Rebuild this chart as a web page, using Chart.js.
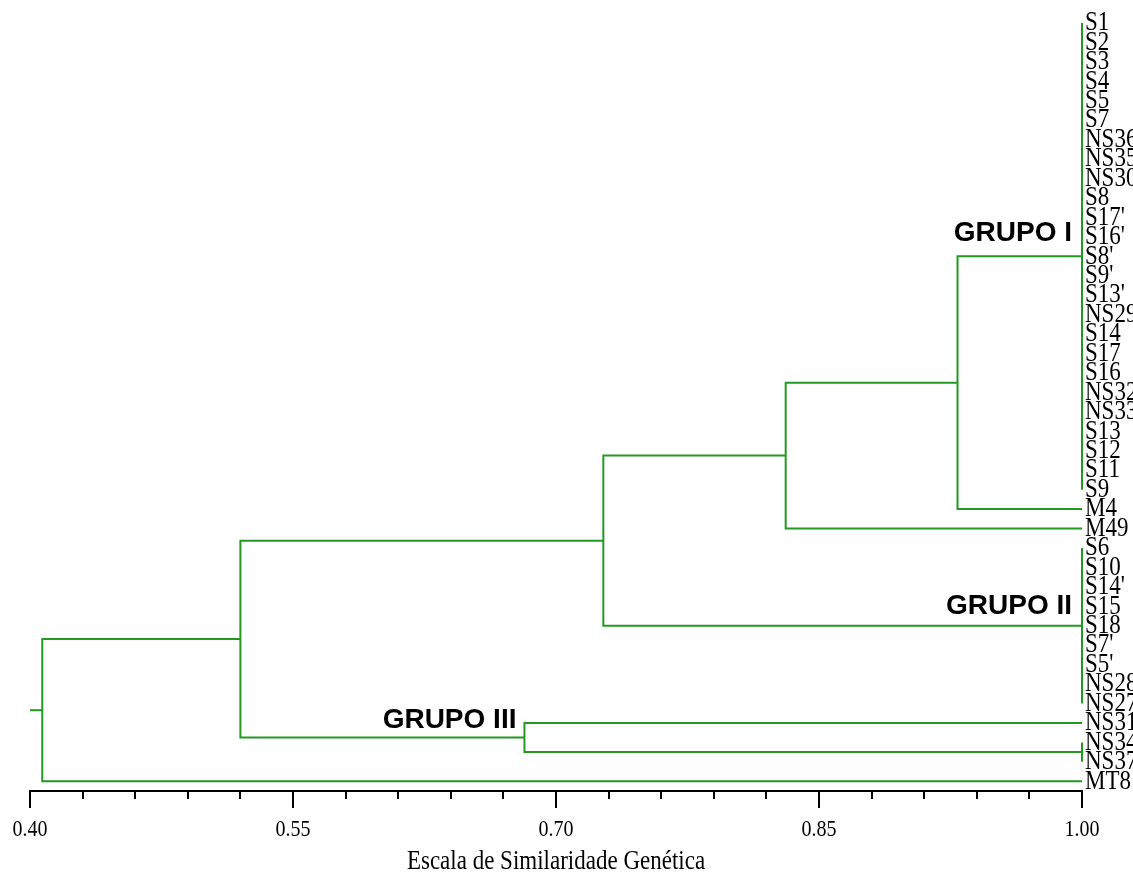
<!DOCTYPE html>
<html>
<head>
<meta charset="utf-8">
<script src="https://cdn.jsdelivr.net/npm/chart.js@4/dist/chart.umd.min.js"></script>
<style>
  html, body { margin: 0; padding: 0; background: #ffffff; }
  #wrap { width: 1133px; height: 873px; position: relative; }
</style>
</head>
<body>
<div id="wrap"><canvas id="dendro"></canvas></div>
<script>
// Accessions, top to bottom
const leafLabels = [
  'S1', 'S2', 'S3', 'S4', 'S5', 'S7', 'NS36', 'NS35', 'NS30', 'S8',
  "S17'", "S16'", "S8'", "S9'", "S13'", 'NS29', 'S14', 'S17', 'S16', 'NS32',
  'NS33', 'S13', 'S12', 'S11', 'S9', 'M4', 'M49', 'S6', 'S10', "S14'",
  'S15', 'S18', "S7'", "S5'", 'NS28', 'NS27', 'NS31', 'NS34', 'NS37', 'MT8'
];

// Clusters: children are leaf indices (numbers) or earlier clusters ('n' + index)
const nodeChildren = [
  [0, 1, 2, 3, 4, 5, 6, 7, 8, 9, 10, 11, 12, 13, 14, 15, 16, 17, 18, 19, 20, 21, 22, 23, 24],
  [27, 28, 29, 30, 31, 32, 33, 34, 35],
  [37, 38],
  ['n0', 25],
  ['n3', 26],
  ['n4', 'n1'],
  [36, 'n2'],
  ['n5', 'n6'],
  ['n7', 39]
];
// Similarity at which each cluster joins
const nodeSimilarity = [1.00, 1.00, 1.00, 0.929, 0.831, 0.727, 0.682, 0.520, 0.407];

// Axis
const majorTicks = [0.40, 0.55, 0.70, 0.85, 1.00];
const minorPerMajor = 5;
const axisTitle = 'Escala de Similaridade Genética';

// Group captions and the cluster each one names
const groupNames = ['GRUPO I', 'GRUPO II', 'GRUPO III'];
const groupNodes = [0, 1, 6];

const GREEN = '#229a22';
const SERIF = '"Liberation Serif", "Times New Roman", serif';

// Position of every leaf/cluster: x = similarity, y = leaf row
function place(ref) {
  if (typeof ref === 'number') return { x: 1.00, y: ref };
  const id = Number(ref.slice(1));
  const kids = nodeChildren[id].map(place);
  const ys = kids.map(k => k.y);
  return { x: nodeSimilarity[id], y: (Math.min(...ys) + Math.max(...ys)) / 2, kids };
}
const placed = nodeChildren.map((_, i) => place('n' + i));

// One bracket per cluster: first child -> cluster level -> last child
const datasets = placed.map(p => {
  const a = p.kids[0];
  const b = p.kids[p.kids.length - 1];
  return {
    data: [
      { x: a.x, y: a.y }, { x: p.x, y: a.y },
      { x: p.x, y: b.y }, { x: b.x, y: b.y }
    ]
  };
});
// Stem on the left of the root
const root = placed[placed.length - 1];
datasets.push({ data: [{ x: majorTicks[0], y: root.y }, { x: root.x, y: root.y }] });
datasets.forEach(d => Object.assign(d, {
  showLine: true, borderColor: GREEN, borderWidth: 2, pointRadius: 0,
  fill: false, tension: 0, clip: false, borderJoinStyle: 'miter'
}));

// Text drawn slightly taller than wide, like the old bitmap serif
function tallText(ctx, text, x, y, align, stretch) {
  ctx.save();
  ctx.translate(x, y);
  ctx.scale(1, stretch);
  ctx.textAlign = align;
  ctx.textBaseline = 'middle';
  ctx.fillText(text, 0, 0);
  ctx.restore();
}

// Short ticks between the labelled ones, tick labels, axis title and leaf names
const axisTextPlugin = {
  id: 'axisText',
  afterDraw(chart) {
    const { x: sx, y: sy } = chart.scales;
    const ctx = chart.ctx;
    ctx.save();
    ctx.strokeStyle = '#000';
    ctx.lineWidth = 2;
    for (let i = 0; i < majorTicks.length - 1; i++) {
      const step = (majorTicks[i + 1] - majorTicks[i]) / minorPerMajor;
      for (let k = 1; k < minorPerMajor; k++) {
        const px = Math.round(sx.getPixelForValue(majorTicks[i] + k * step));
        ctx.beginPath();
        ctx.moveTo(px, sx.top);
        ctx.lineTo(px, sx.top + 8);
        ctx.stroke();
      }
    }
    ctx.fillStyle = '#000';
    ctx.font = '20px ' + SERIF;
    majorTicks.forEach(v => tallText(ctx, v.toFixed(2), sx.getPixelForValue(v), sx.top + 39, 'center', 1.2));
    ctx.font = '23px ' + SERIF;
    tallText(ctx, axisTitle, (sx.left + sx.right) / 2, sx.top + 71, 'center', 1.2);
    ctx.font = '23px ' + SERIF;
    leafLabels.forEach((name, i) => tallText(ctx, name, sx.right + 3, sy.getPixelForValue(i), 'left', 1.2));
    ctx.restore();
  }
};

// Group captions above the branch that leads to each group
const groupCaptionPlugin = {
  id: 'groupCaptions',
  afterDatasetsDraw(chart) {
    const { x: sx, y: sy } = chart.scales;
    const ctx = chart.ctx;
    const lift = [15, 12, 10];
    const gap = [10, 10, 8];
    ctx.save();
    ctx.fillStyle = '#000';
    ctx.font = 'bold 28px "Liberation Sans", Arial, sans-serif';
    ctx.textAlign = 'right';
    ctx.textBaseline = 'alphabetic';
    groupNames.forEach((name, i) => {
      const p = placed[groupNodes[i]];
      ctx.fillText(name, sx.getPixelForValue(p.x) - gap[i], sy.getPixelForValue(p.y) - lift[i]);
    });
    ctx.restore();
  }
};

new Chart(document.getElementById('dendro'), {
  type: 'scatter',
  data: { datasets },
  options: {
    responsive: true,
    maintainAspectRatio: false,
    animation: false,
    layout: { padding: { top: 13.3, left: 30, right: 0, bottom: 0 } },
    plugins: { legend: { display: false }, tooltip: { enabled: false } },
    scales: {
      x: {
        type: 'linear',
        position: 'bottom',
        min: majorTicks[0],
        max: majorTicks[majorTicks.length - 1],
        afterBuildTicks: s => { s.ticks = majorTicks.map(v => ({ value: v })); },
        afterFit: s => { s.height = 82; },
        ticks: { display: false },
        grid: { display: true, drawOnChartArea: false, drawTicks: true, tickLength: 17, color: '#000', lineWidth: 2 },
        border: { display: true, color: '#000', width: 2 },
        title: { display: false }
      },
      y: {
        type: 'linear',
        position: 'right',
        reverse: true,
        min: -0.5,
        max: leafLabels.length - 0.5,
        afterBuildTicks: s => { s.ticks = leafLabels.map((_, i) => ({ value: i })); },
        afterFit: s => { s.width = 51; },
        ticks: { display: false },
        grid: { display: false, drawTicks: false },
        border: { display: false }
      }
    }
  },
  plugins: [axisTextPlugin, groupCaptionPlugin]
});
</script>
</body>
</html>
